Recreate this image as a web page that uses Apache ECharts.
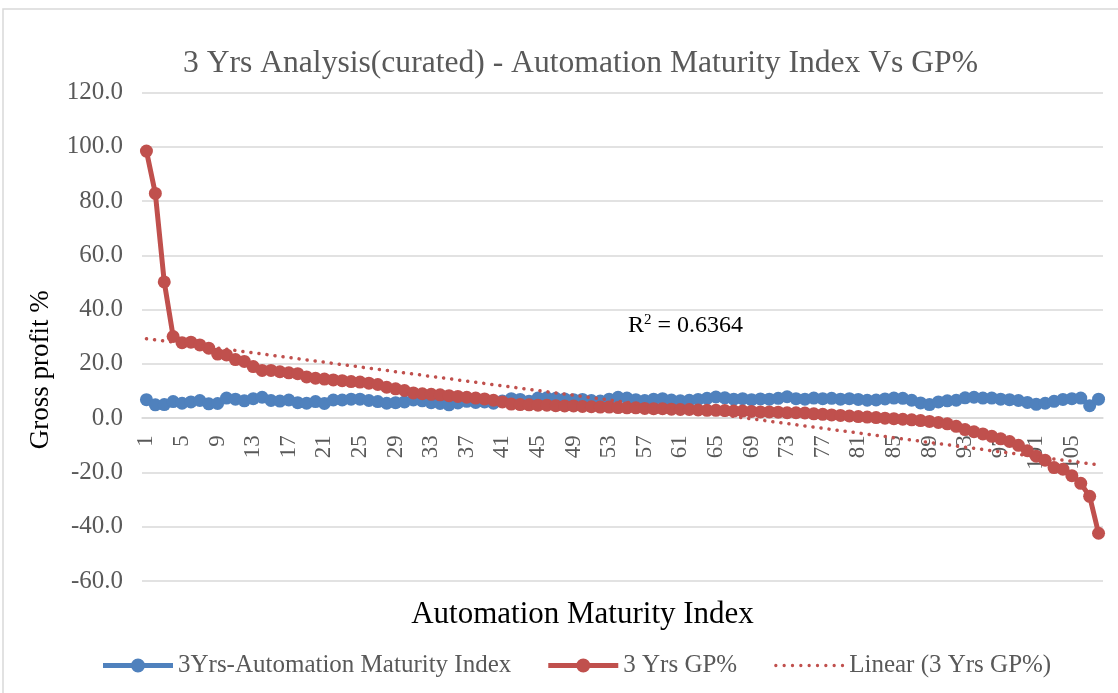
<!DOCTYPE html>
<html>
<head>
<meta charset="utf-8">
<script src="https://cdn.jsdelivr.net/npm/echarts@6/dist/echarts.min.js"></script>
</head>
<body style="margin:0;background:#fff;">
<div id="main" style="width:1118px;height:693px;"></div>
<script>
// category index 1..108
var indexLabels = [];
for (var i = 1; i <= 108; i++) indexLabels.push(String(i));

// 3Yrs-Automation Maturity Index
var amiValues = [
  6.8, 4.9, 5.0, 6.1, 5.5, 6.0, 6.5, 5.3, 5.4, 7.4,
  7.0, 6.4, 7.2, 7.7, 6.5, 6.3, 6.7, 5.7, 5.5, 6.1,
  5.4, 6.7, 6.7, 7.0, 7.0, 6.5, 6.1, 5.5, 5.7, 6.0,
  6.7, 6.4, 5.7, 5.4, 4.9, 5.6, 6.2, 5.8, 6.0, 5.5,
  6.3, 7.2, 6.9, 6.2, 7.4, 7.5, 7.3, 7.1, 6.8, 6.9,
  6.5, 6.3, 7.0, 7.7, 7.4, 6.8, 6.5, 7.0, 7.2, 6.7,
  6.4, 6.6, 6.9, 7.3, 7.8, 7.5, 7.0, 7.2, 6.8, 7.1,
  7.0, 7.3, 7.9, 7.2, 7.0, 7.4, 7.2, 7.3, 7.0, 7.2,
  6.9, 6.6, 6.7, 7.1, 7.4, 7.3, 6.6, 5.6, 5.0, 6.0,
  6.4, 6.6, 7.5, 7.7, 7.4, 7.4, 7.0, 6.8, 6.5, 5.8,
  5.1, 5.5, 6.2, 6.9, 7.2, 7.4, 4.6, 7.0
];

// 3 Yrs GP%
var gpValues = [
  98.4, 82.8, 50.2, 30.1, 27.8, 28.0, 27.0, 25.8, 23.6, 23.3,
  21.6, 20.9, 19.0, 17.6, 17.6, 17.1, 16.7, 16.4, 15.2, 14.7,
  14.4, 14.1, 13.8, 13.5, 13.3, 12.9, 12.4, 11.4, 10.8, 10.2,
  9.3, 9.0, 8.8, 8.6, 8.3, 8.0, 7.7, 7.4, 7.1, 6.6,
  6.0, 5.2, 5.0, 4.9, 4.8, 4.8, 4.6, 4.5, 4.5, 4.3,
  4.2, 4.1, 4.1, 3.9, 3.8, 3.8, 3.6, 3.5, 3.5, 3.3,
  3.2, 3.2, 3.0, 2.9, 2.9, 2.8, 2.6, 2.6, 2.5, 2.3,
  2.3, 2.2, 2.0, 2.0, 1.9, 1.6, 1.4, 1.2, 1.0, 0.8,
  0.6, 0.4, 0.2, 0.0, -0.2, -0.4, -0.6, -0.9, -1.2, -1.6,
  -2.1, -3.0, -4.2, -5.0, -5.8, -6.7, -7.6, -8.6, -10.0, -12.0,
  -14.0, -15.5, -18.2, -18.8, -21.2, -24.0, -28.8, -42.4
];

// linear trendline ends (at index 1 and 108)
var trendEnds = [29.3, -17.2];
var rSquaredText = '0.6364';

var trendData = indexLabels.map(function (c, k) {
  if (k === 0) return trendEnds[0];
  if (k === indexLabels.length - 1) return trendEnds[1];
  return null;
});

var serif = "'Liberation Serif', 'DejaVu Serif', serif";
var grey = '#595959';

// y range and plot box, used to put the category axis on the zero line
var yMin = -60, yMax = 120;
var gridTop = 92.5, gridBottom = 112, chartH = 693;
var plotH = chartH - gridTop - gridBottom;
var zeroOffset = -plotH * (0 - yMin) / (yMax - yMin);

// legend icons: thick line with marker, and a dotted line
var markerIcon = 'path://M0,4.5 L70,4.5 L70,9.5 L0,9.5 Z M28,7 A7,7 0 1,1 42,7 A7,7 0 1,1 28,7 Z';
var dotIcon = 'path://';
for (var d = 0; d < 9; d++) {
  var cx = 1.6 + d * 8;
  dotIcon += 'M' + (cx - 1.6) + ',7 A1.6,1.6 0 1,1 ' + (cx + 1.6) + ',7 A1.6,1.6 0 1,1 ' + (cx - 1.6) + ',7 Z ';
}

var myChart = echarts.init(document.getElementById('main'));
var option = {
  animation: false,
  backgroundColor: '#fff',
  title: {
    text: '3 Yrs Analysis(curated) - Automation Maturity Index Vs GP%',
    left: 178,
    top: 43,
    textStyle: { fontFamily: serif, fontSize: 31.6, fontWeight: 'normal', color: grey }
  },
  legend: {
    left: 98,
    top: 648,
    itemGap: 37,
    itemWidth: 70,
    itemHeight: 14,
    textStyle: { fontFamily: serif, fontSize: 25, color: grey },
    data: [
      { name: '3Yrs-Automation Maturity Index', icon: markerIcon },
      { name: '3 Yrs GP%', icon: markerIcon },
      { name: 'Linear (3 Yrs GP%)', icon: dotIcon }
    ]
  },
  grid: { left: 142, right: 15, top: gridTop, bottom: gridBottom, outerBoundsMode: 'none', containLabel: false },
  xAxis: {
    type: 'category',
    data: indexLabels,
    boundaryGap: true,
    position: 'bottom',
    offset: zeroOffset,
    name: 'Automation Maturity Index',
    nameLocation: 'middle',
    nameGap: 181,
    nameTextStyle: { fontFamily: serif, fontSize: 31, color: '#000', padding: [0, 80, 0, 0] },
    axisLine: { onZero: false, lineStyle: { color: '#D9D9D9', width: 1.5 } },
    axisTick: { show: false },
    axisLabel: { interval: 3, rotate: 90, margin: 17, fontFamily: serif, fontSize: 23, color: grey }
  },
  yAxis: {
    type: 'value',
    min: yMin,
    max: yMax,
    interval: 20,
    name: 'Gross profit %',
    nameLocation: 'middle',
    nameRotate: 90,
    nameGap: 88,
    nameTextStyle: { fontFamily: serif, fontSize: 27, color: '#000', padding: [0, 66, 0, 0] },
    axisLine: { show: false },
    axisTick: { show: false },
    splitLine: { lineStyle: { color: '#D9D9D9', width: 1.5 } },
    axisLabel: {
      margin: 19, fontFamily: serif, fontSize: 25, color: grey,
      formatter: function (v) { return v.toFixed(1); }
    }
  },
  graphic: [
    {
      type: 'rect',
      silent: true,
      shape: { x: 3, y: 9, width: 1130, height: 700 },
      style: { fill: 'none', stroke: '#D9D9D9', lineWidth: 1.5 }
    },
    {
      type: 'text',
      left: 628,
      top: 313,
      z: 10,
      style: {
        text: '{a|R}{b|2}{a| = ' + rSquaredText + '}',
        rich: {
          a: { fontFamily: serif, fontSize: 24, color: grey },
          b: { fontFamily: serif, fontSize: 15, color: grey, verticalAlign: 'top', padding: [0, 0, 10, 0] }
        }
      }
    }
  ],
  series: [
    {
      name: '3Yrs-Automation Maturity Index',
      type: 'line',
      data: amiValues,
      symbol: 'circle',
      symbolSize: 13,
      showAllSymbol: true,
      itemStyle: { color: '#4F81BD' },
      lineStyle: { color: '#4F81BD', width: 5 },
      z: 2
    },
    {
      name: '3 Yrs GP%',
      type: 'line',
      data: gpValues,
      symbol: 'circle',
      symbolSize: 13,
      showAllSymbol: true,
      itemStyle: { color: '#C0504D' },
      lineStyle: { color: '#C0504D', width: 5 },
      z: 3
    },
    {
      name: 'Linear (3 Yrs GP%)',
      type: 'line',
      data: trendData,
      connectNulls: true,
      symbol: 'none',
      itemStyle: { color: '#C0504D' },
      lineStyle: { color: '#C0504D', width: 3.5, type: [0.1, 8], cap: 'round' },
      z: 4
    }
  ]
};
myChart.setOption(option);
</script>
</body>
</html>
